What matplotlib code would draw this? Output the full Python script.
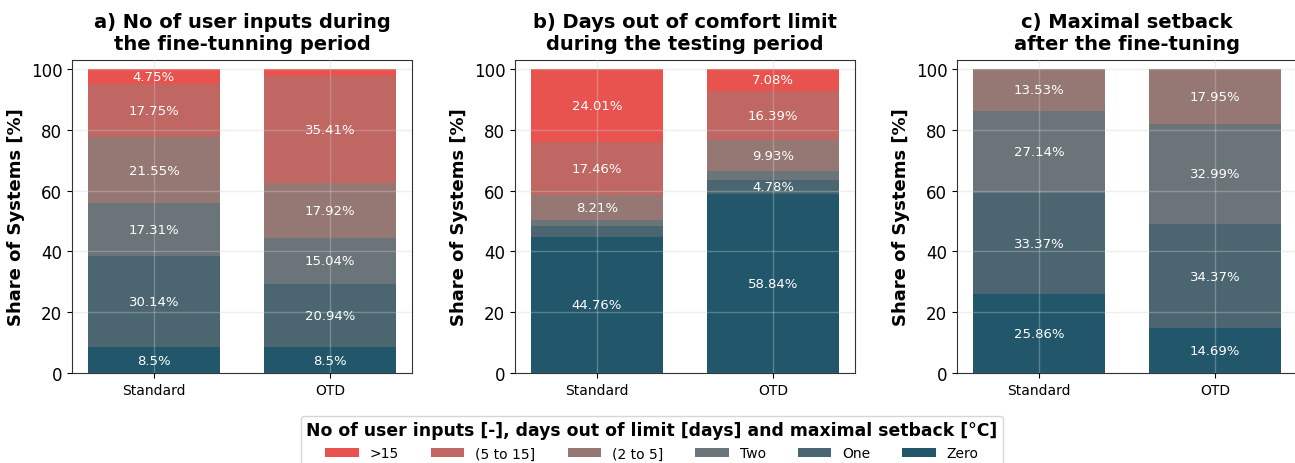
import numpy as np
import matplotlib
matplotlib.use("Agg")
import matplotlib.pyplot as plt

groups = ["Standard", "OTD"]
categories = ["Zero", "One", "Two", "(2 to 5]", "(5 to 15]", ">15"]
colors = ["#21566b", "#4b6670", "#6b7479", "#957873", "#c06663", "#e8534f"]

# shares [%] per category (bottom -> top), for Standard and OTD
inputs = {
    "Zero": [8.5, 8.5],
    "One": [30.14, 20.94],
    "Two": [17.31, 15.04],
    "(2 to 5]": [21.55, 17.92],
    "(5 to 15]": [17.75, 35.41],
    ">15": [4.75, 2.19],
}
days_out = {
    "Zero": [44.76, 58.84],
    "One": [3.48, 4.78],
    "Two": [2.08, 2.98],
    "(2 to 5]": [8.21, 9.93],
    "(5 to 15]": [17.46, 16.39],
    ">15": [24.01, 7.08],
}
setback = {
    "Zero": [25.86, 14.69],
    "One": [33.37, 34.37],
    "Two": [27.14, 32.99],
    "(2 to 5]": [13.53, 17.95],
    "(5 to 15]": [0.0, 0.0],
    ">15": [0.0, 0.0],
}

titles = [
    "a) No of user inputs during\nthe fine-tunning period",
    "b) Days out of comfort limit\nduring the testing period",
    "c) Maximal setback\nafter the fine-tuning",
]

W, H = 1295, 464
fig = plt.figure(figsize=(W / 100, H / 100), dpi=100)
lefts = [72, 515, 957]
axes = [fig.add_axes([l / W, 1 - 374 / H, 340 / W, (374 - 61) / H]) for l in lefts]

x = np.arange(len(groups))
handles = []
for ax, data, title in zip(axes, [inputs, days_out, setback], titles):
    bottom = np.zeros(len(groups))
    for cat, col in zip(categories, colors):
        vals = np.array(data[cat])
        bars = ax.bar(x, np.where(vals > 0, vals, np.nan), 0.75, bottom=bottom,
                      color=col, label=cat, zorder=1)
        if ax is axes[0]:
            handles.append(bars)
        for xi, v, b in zip(x, vals, bottom):
            if v >= 4.0:
                ax.text(xi, b + v / 2, f"{v:g}%", ha="center", va="center",
                        color="white", fontsize=9.5, zorder=3)
        bottom += vals
    ax.set_xlim(-0.465, 1.465)
    ax.set_ylim(0, 103)
    ax.set_xticks(x)
    ax.set_xticklabels(groups, fontsize=10)
    ax.set_yticks([0, 20, 40, 60, 80, 100])
    ax.tick_params(axis="y", labelsize=12)
    ax.grid(True, color="#cfcfcf", alpha=0.35, lw=1, zorder=2)
    ax.set_axisbelow(False)
    ax.set_ylabel("Share of Systems [%]", fontsize=13, fontweight="bold")
    ax.set_title(title, fontsize=14, fontweight="bold", pad=8)
    for s in ax.spines.values():
        s.set_color("#333333")

leg = fig.legend(handles[::-1], categories[::-1],
                 loc="upper center", bbox_to_anchor=(0.5035, 1 - 410 / H), ncol=6,
                 title="No of user inputs [-], days out of limit [days] and maximal setback [°C]",
                 fontsize=10, frameon=True, handlelength=2.4, columnspacing=2.3)
leg.get_title().set_fontweight("bold")
leg.get_title().set_fontsize(12.4)

fig.savefig("out.png", dpi=100)
